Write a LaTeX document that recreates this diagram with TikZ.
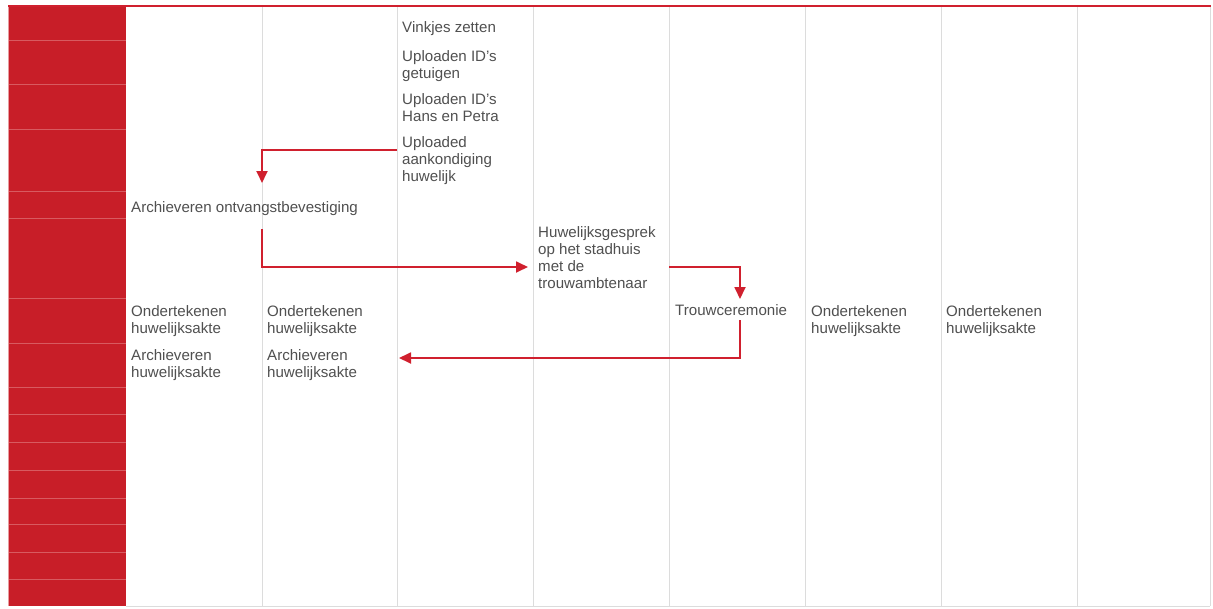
\documentclass[tikz,border=0pt]{standalone}
\usepackage{fontspec}
\setmainfont{Liberation Sans}
\usetikzlibrary{arrows.meta}
\definecolor{barred}{HTML}{C81E28}
\definecolor{barline}{HTML}{D85A60}
\definecolor{arrred}{HTML}{D0202E}
\definecolor{txtgray}{HTML}{505050}
\definecolor{colgray}{HTML}{DCDCDC}
\tikzset{
  lbl/.style={anchor=base west, inner sep=0pt, align=left, text=txtgray,
    font=\fontsize{15.1}{17}\selectfont},
  arr/.style={draw=arrred, line width=1.8pt, -{Triangle[length=12pt,width=11pt]}},
  colline/.style={draw=colgray, line width=1pt},
  bandline/.style={draw=barline, line width=0.9pt}
}
\begin{document}
\begin{tikzpicture}[x=1pt,y=-1pt]
\useasboundingbox (0,0) rectangle (1213,608);
\fill[white] (0,0) rectangle (1213,608);
% red band
\fill[barred] (8,6) rectangle (126,606);
\draw[draw=barline!60, line width=0.8pt] (8,6) -- (8,606);
\foreach \y in {40,84,129,191,218,298,343,387,414,442,470,498,524,552,579}
  \draw[bandline] (9,\y) -- (126,\y);
% column lines
\foreach \x in {262,397,533,669,805,941,1077,1210}
  \draw[colline] (\x,7) -- (\x,606);
\draw[colline] (126,606) -- (1210,606);
% top red line
\draw[draw=arrred, line width=1.5pt] (8,6) -- (1211,6);
% texts (base = baseline of last line)
\node[lbl] (vink) at (402,32) {Vinkjes zetten};
\node[lbl] (upget) at (402,78) {Uploaden ID's\\getuigen};
\node[lbl] (uphp) at (402,121) {Uploaden ID's\\Hans en Petra};
\node[lbl] (upaank) at (402,181) {Uploaded\\aankondiging\\huwelijk};
\node[lbl] (aov) at (131,212) {Archieveren ontvangstbevestiging};
\node[lbl] (gesprek) at (538,288) {Huwelijksgesprek\\op het stadhuis\\met de\\trouwambtenaar};
\node[lbl] (trouw) at (675,315) {Trouwceremonie};
\node[lbl] (ond1) at (131,333) {Ondertekenen\\huwelijksakte};
\node[lbl] (ond2) at (267,333) {Ondertekenen\\huwelijksakte};
\node[lbl] (ond3) at (811,333) {Ondertekenen\\huwelijksakte};
\node[lbl] (ond4) at (946,333) {Ondertekenen\\huwelijksakte};
\node[lbl] (arch1) at (131,377) {Archieveren\\huwelijksakte};
\node[lbl] (arch2) at (267,377) {Archieveren\\huwelijksakte};
% connector endpoints
\coordinate (a1s) at (397,150);
\coordinate (a1e) at (262,183);
\coordinate (a2s) at (262,229);
\coordinate (a2e) at (528,267);
\coordinate (a3s) at (669,267);
\coordinate (a3e) at (740,299);
\coordinate (a4s) at (740,320);
\coordinate (a4e) at (399,358);
\draw[arr] (a1s) -| (a1e);
\draw[arr] (a2s) |- (a2e);
\draw[arr] (a3s) -| (a3e);
\draw[arr] (a4s) |- (a4e);
\end{tikzpicture}
\end{document}
